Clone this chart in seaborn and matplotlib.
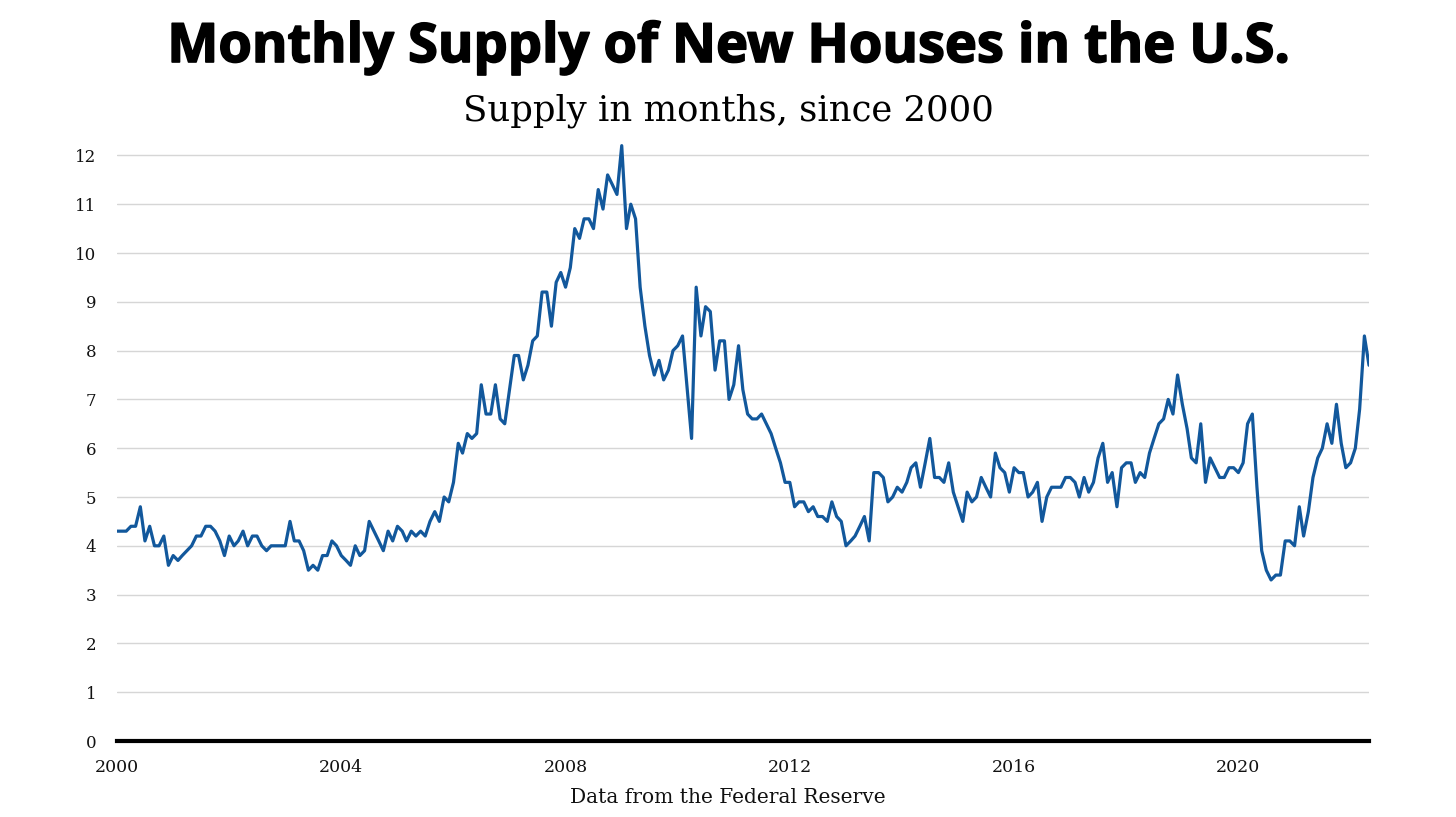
import matplotlib
matplotlib.use("Agg")
import matplotlib.pyplot as plt
import matplotlib.patheffects as pe
import seaborn as sns
import pandas as pd
import numpy as np

# Monthly supply of new houses (months), Jan 2000 onward
supply_2000_2005 = [
    4.3, 4.3, 4.3, 4.4, 4.4, 4.8, 4.1, 4.4, 4.0, 4.0, 4.2, 3.6,
    3.8, 3.7, 3.8, 3.9, 4.0, 4.2, 4.2, 4.4, 4.4, 4.3, 4.1, 3.8,
    4.2, 4.0, 4.1, 4.3, 4.0, 4.2, 4.2, 4.0, 3.9, 4.0, 4.0, 4.0,
    4.0, 4.5, 4.1, 4.1, 3.9, 3.5, 3.6, 3.5, 3.8, 3.8, 4.1, 4.0,
    3.8, 3.7, 3.6, 4.0, 3.8, 3.9, 4.5, 4.3, 4.1, 3.9, 4.3, 4.1,
    4.4, 4.3, 4.1, 4.3, 4.2, 4.3, 4.2, 4.5, 4.7, 4.5, 5.0, 4.9,
]
supply_2006_2011 = [
    5.3, 6.1, 5.9, 6.3, 6.2, 6.3, 7.3, 6.7, 6.7, 7.3, 6.6, 6.5,
    7.2, 7.9, 7.9, 7.4, 7.7, 8.2, 8.3, 9.2, 9.2, 8.5, 9.4, 9.6,
    9.3, 9.7, 10.5, 10.3, 10.7, 10.7, 10.5, 11.3, 10.9, 11.6, 11.4, 11.2,
    12.2, 10.5, 11.0, 10.7, 9.3, 8.5, 7.9, 7.5, 7.8, 7.4, 7.6, 8.0,
    8.1, 8.3, 7.3, 6.2, 9.3, 8.3, 8.9, 8.8, 7.6, 8.2, 8.2, 7.0,
    7.3, 8.1, 7.2, 6.7, 6.6, 6.6, 6.7, 6.5, 6.3, 6.0, 5.7, 5.3,
]
supply_2012_2017 = [
    5.3, 4.8, 4.9, 4.9, 4.7, 4.8, 4.6, 4.6, 4.5, 4.9, 4.6, 4.5,
    4.0, 4.1, 4.2, 4.4, 4.6, 4.1, 5.5, 5.5, 5.4, 4.9, 5.0, 5.2,
    5.1, 5.3, 5.6, 5.7, 5.2, 5.7, 6.2, 5.4, 5.4, 5.3, 5.7, 5.1,
    4.8, 4.5, 5.1, 4.9, 5.0, 5.4, 5.2, 5.0, 5.9, 5.6, 5.5, 5.1,
    5.6, 5.5, 5.5, 5.0, 5.1, 5.3, 4.5, 5.0, 5.2, 5.2, 5.2, 5.4,
    5.4, 5.3, 5.0, 5.4, 5.1, 5.3, 5.8, 6.1, 5.3, 5.5, 4.8, 5.6,
]
supply_2018_2022 = [
    5.7, 5.7, 5.3, 5.5, 5.4, 5.9, 6.2, 6.5, 6.6, 7.0, 6.7, 7.5,
    6.9, 6.4, 5.8, 5.7, 6.5, 5.3, 5.8, 5.6, 5.4, 5.4, 5.6, 5.6,
    5.5, 5.7, 6.5, 6.7, 5.2, 3.9, 3.5, 3.3, 3.4, 3.4, 4.1, 4.1,
    4.0, 4.8, 4.2, 4.7, 5.4, 5.8, 6.0, 6.5, 6.1, 6.9, 6.1, 5.6,
    5.7, 6.0, 6.8, 8.3, 7.7,
]
supply = supply_2000_2005 + supply_2006_2011 + supply_2012_2017 + supply_2018_2022
dates = pd.date_range("2000-01-01", periods=len(supply), freq="MS")
df = pd.DataFrame({"date": dates, "supply": supply})

y_ticks = list(range(0, 13))
x_tick_years = [2000, 2004, 2008, 2012, 2016, 2020]

title = "Monthly Supply of New Houses in the U.S."
subtitle = "Supply in months, since 2000"
caption = "Data from the Federal Reserve"

sns.set_theme(style="white")
plt.rcParams["font.family"] = ["DejaVu Serif"]

W, H = 1456, 817
fig = plt.figure(figsize=(W / 100, H / 100), dpi=100)
ymax = 12.5
left, right = 117 / W, 1369 / W
bottom = (H - 741) / H
top_px = 741 - ymax * 48.8
ax = fig.add_axes([left, bottom, right - left, (741 - top_px) / H])

line_color = "#12589c"
sns.lineplot(data=df, x="date", y="supply", ax=ax, color=line_color, linewidth=2.3)

ax.set_xlim(dates[0], dates[-1])
ax.set_ylim(0, ymax)
ax.set_yticks(y_ticks)
ax.set_yticklabels([str(v) for v in y_ticks], fontsize=12, color="#111111")
ax.set_xticks([pd.Timestamp(f"{y}-01-01") for y in x_tick_years])
ax.set_xticklabels([str(y) for y in x_tick_years], fontsize=12.5, color="#111111")
ax.tick_params(axis="y", length=0, pad=15)
ax.tick_params(axis="x", length=0, pad=13)
ax.grid(axis="y", color="#d6d6d6", linewidth=1)
ax.grid(axis="x", visible=False)
for s in ["left", "right", "top"]:
    ax.spines[s].set_visible(False)
ax.spines["bottom"].set_color("black")
ax.spines["bottom"].set_linewidth(3)
ax.set_xlabel("")
ax.set_ylabel("")

fig.text(0.5, 1 - 62 / H, title, ha="center", va="baseline",
         fontsize=39, fontweight="bold",
         family=["Open Sans", "DejaVu Sans"], color="black",
         path_effects=[pe.withStroke(linewidth=1.2, foreground="black")])
fig.text(0.5, 1 - 120 / H, subtitle, ha="center", va="baseline",
         fontsize=25.5, family=["DejaVu Serif"], color="black")
fig.text(0.5, 1 - 803 / H, caption, ha="center", va="baseline",
         fontsize=14.5, family=["DejaVu Serif"], color="#111111")

fig.savefig("out.png", dpi=100)
